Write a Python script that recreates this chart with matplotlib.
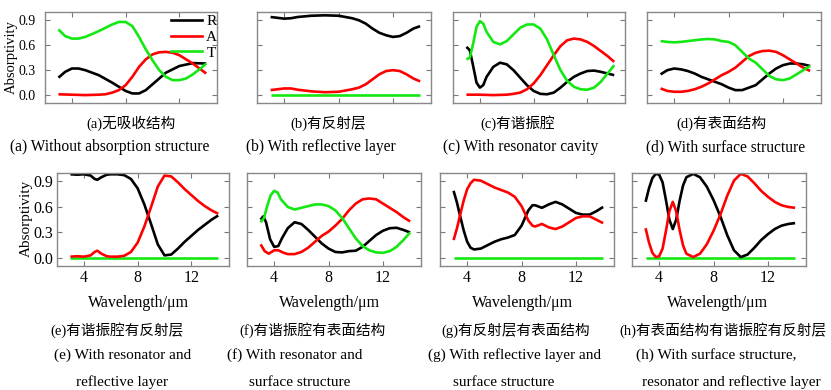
import matplotlib
matplotlib.use("Agg")
import matplotlib.pyplot as plt

# ---- data (x = wavelength in um) ----
# (a) without absorption structure
a_x_R = [3, 3.5, 4, 4.5, 5, 6, 7, 7.5, 8, 8.5, 9, 9.5, 10, 10.5, 11, 12, 13, 14]
a_R = [0.21, 0.28, 0.32, 0.32, 0.30, 0.24, 0.15, 0.10, 0.05, 0.02, 0.02, 0.06, 0.13, 0.20, 0.27, 0.35, 0.385, 0.38]
a_x_A = [3, 4, 5, 6, 6.5, 7, 7.5, 8, 8.5, 9, 9.5, 10, 10.5, 11, 11.5, 12, 12.5, 13, 13.5, 14]
a_A = [0.01, 0.005, 0.0, 0.005, 0.01, 0.03, 0.06, 0.12, 0.22, 0.34, 0.43, 0.49, 0.515, 0.52, 0.51, 0.48, 0.43, 0.38, 0.32, 0.26]
a_x_T = [3, 3.5, 4, 4.5, 5, 6, 7, 7.5, 8, 8.5, 9, 9.5, 10, 10.5, 11, 11.5, 12, 12.5, 13, 13.5, 14]
a_T = [0.79, 0.71, 0.68, 0.68, 0.70, 0.77, 0.85, 0.88, 0.88, 0.83, 0.70, 0.55, 0.42, 0.30, 0.22, 0.18, 0.18, 0.20, 0.25, 0.31, 0.38]

# (b) with reflective layer
b_x = [3, 3.5, 4, 4.5, 5, 6, 7, 8, 8.5, 9, 9.5, 10, 10.5, 11, 11.5, 12, 12.5, 13, 13.5, 14]
b_R = [0.94, 0.93, 0.92, 0.925, 0.94, 0.955, 0.96, 0.955, 0.94, 0.925, 0.90, 0.86, 0.80, 0.75, 0.72, 0.70, 0.71, 0.75, 0.80, 0.83]
b_A = [0.06, 0.07, 0.08, 0.08, 0.065, 0.045, 0.035, 0.04, 0.055, 0.07, 0.09, 0.13, 0.19, 0.25, 0.29, 0.30, 0.29, 0.25, 0.20, 0.165]
b_T = [0.0] * len(b_x)

# (c) with resonator cavity
c_x_T = [3, 3.25, 3.5, 3.75, 4, 4.25, 4.5, 5, 5.5, 6, 6.5, 7, 7.5, 8, 8.5, 9, 9.5, 10, 10.5, 11, 11.5, 12, 12.5, 13, 13.5, 14]
c_T = [0.43, 0.45, 0.62, 0.82, 0.89, 0.86, 0.76, 0.64, 0.61, 0.65, 0.73, 0.81, 0.85, 0.85, 0.80, 0.67, 0.48, 0.30, 0.17, 0.10, 0.07, 0.065, 0.09, 0.16, 0.26, 0.36]
c_R = [0.58, 0.54, 0.35, 0.15, 0.09, 0.12, 0.22, 0.34, 0.39, 0.37, 0.30, 0.21, 0.12, 0.05, 0.015, 0.01, 0.03, 0.09, 0.16, 0.22, 0.26, 0.29, 0.295, 0.28, 0.26, 0.24]
c_x_A = [3, 4, 5, 6, 6.5, 7, 7.5, 8, 8.5, 9, 9.5, 10, 10.5, 11, 11.5, 12, 12.5, 13, 13.5, 14]
c_A = [0.005, 0.005, 0.0, 0.005, 0.015, 0.03, 0.07, 0.14, 0.24, 0.36, 0.48, 0.59, 0.66, 0.68, 0.67, 0.64, 0.59, 0.53, 0.47, 0.40]

# (d) with surface structure
d_x = [3, 3.5, 4, 4.5, 5, 5.5, 6, 6.5, 7, 7.5, 8, 8.5, 9, 9.5, 10, 10.5, 11, 11.5, 12, 12.5, 13, 13.5, 14]
d_T = [0.65, 0.64, 0.635, 0.64, 0.65, 0.66, 0.67, 0.675, 0.67, 0.65, 0.64, 0.60, 0.52, 0.44, 0.39, 0.31, 0.23, 0.19, 0.18, 0.20, 0.25, 0.30, 0.35]
d_R = [0.25, 0.30, 0.32, 0.31, 0.29, 0.26, 0.22, 0.19, 0.16, 0.13, 0.09, 0.06, 0.06, 0.09, 0.12, 0.19, 0.26, 0.32, 0.36, 0.38, 0.38, 0.37, 0.35]
d_A = [0.08, 0.05, 0.04, 0.04, 0.05, 0.07, 0.10, 0.14, 0.19, 0.24, 0.28, 0.33, 0.40, 0.47, 0.51, 0.53, 0.535, 0.52, 0.48, 0.43, 0.38, 0.33, 0.29]

# (e) with resonator and reflective layer
e_x = [3, 3.5, 4, 4.5, 4.8, 5, 5.3, 5.7, 6, 6.5, 7, 7.5, 8, 8.5, 9, 9.5, 10, 10.5, 11, 11.5, 12, 12.5, 13, 13.5, 14]
e_R = [0.985, 0.98, 0.985, 0.97, 0.93, 0.92, 0.95, 0.98, 0.985, 0.985, 0.975, 0.93, 0.82, 0.63, 0.40, 0.16, 0.03, 0.04, 0.11, 0.19, 0.26, 0.33, 0.39, 0.45, 0.50]
e_A = [0.015, 0.02, 0.015, 0.03, 0.07, 0.085, 0.05, 0.02, 0.015, 0.015, 0.025, 0.07, 0.18, 0.37, 0.60, 0.84, 0.97, 0.96, 0.89, 0.81, 0.74, 0.67, 0.61, 0.56, 0.52]
e_T = [0.0] * len(e_x)

# (f) with resonator and surface structure
f_x_T = [3, 3.25, 3.5, 3.75, 4, 4.25, 4.5, 5, 5.5, 6, 6.5, 7, 7.5, 8, 8.5, 9, 9.5, 10, 10.5, 11, 11.5, 12, 12.5, 13, 13.5, 14]
f_T = [0.42, 0.47, 0.62, 0.74, 0.79, 0.77, 0.69, 0.60, 0.57, 0.59, 0.61, 0.63, 0.63, 0.61, 0.56, 0.47, 0.35, 0.23, 0.14, 0.09, 0.065, 0.06, 0.08, 0.13, 0.21, 0.30]
f_x_R = [3, 3.2, 3.4, 3.7, 4, 4.3, 4.6, 5, 5.5, 6, 6.5, 7, 7.5, 8, 8.5, 9, 9.5, 10, 10.5, 11, 11.5, 12, 12.5, 13, 13.5, 14]
f_R = [0.45, 0.49, 0.42, 0.22, 0.13, 0.14, 0.24, 0.35, 0.42, 0.40, 0.33, 0.25, 0.17, 0.11, 0.07, 0.065, 0.08, 0.085, 0.13, 0.20, 0.27, 0.32, 0.35, 0.355, 0.33, 0.30]
f_x_A = [3, 3.3, 3.6, 4, 4.3, 4.7, 5, 5.5, 6, 6.5, 7, 7.5, 8, 8.5, 9, 9.5, 10, 10.5, 11, 11.5, 12, 12.5, 13, 13.5, 14]
f_A = [0.16, 0.08, 0.05, 0.09, 0.09, 0.06, 0.045, 0.045, 0.07, 0.12, 0.19, 0.26, 0.31, 0.38, 0.46, 0.56, 0.64, 0.69, 0.70, 0.69, 0.64, 0.59, 0.54, 0.48, 0.43]

# (g) with reflective layer and surface structure
g_x = [3, 3.25, 3.5, 3.75, 4, 4.25, 4.5, 5, 5.5, 6, 6.5, 7, 7.5, 8, 8.5, 8.8, 9, 9.5, 10, 10.5, 11, 11.5, 12, 12.5, 13, 13.5, 14]
g_R = [0.79, 0.65, 0.48, 0.32, 0.19, 0.12, 0.10, 0.11, 0.15, 0.19, 0.22, 0.24, 0.27, 0.38, 0.56, 0.62, 0.62, 0.59, 0.63, 0.66, 0.63, 0.58, 0.53, 0.51, 0.51, 0.55, 0.60]
g_A = [0.21, 0.35, 0.52, 0.68, 0.81, 0.88, 0.92, 0.91, 0.87, 0.83, 0.80, 0.77, 0.72, 0.61, 0.44, 0.38, 0.37, 0.40, 0.36, 0.34, 0.37, 0.42, 0.47, 0.49, 0.49, 0.45, 0.41]
g_T = [0.0] * len(g_x)

# (h) with surface structure, resonator and reflective layer
h_x = [3, 3.25, 3.5, 3.75, 4, 4.25, 4.5, 4.75, 5, 5.25, 5.5, 5.75, 6, 6.5, 7, 7.5, 8, 8.5, 9, 9.5, 10, 10.5, 11, 11.5, 12, 12.5, 13, 13.5, 14]
h_R = [0.66, 0.82, 0.94, 0.99, 0.98, 0.89, 0.68, 0.45, 0.34, 0.45, 0.67, 0.85, 0.95, 0.99, 0.95, 0.84, 0.68, 0.49, 0.27, 0.09, 0.01, 0.04, 0.12, 0.21, 0.28, 0.34, 0.38, 0.40, 0.41]
h_A = [0.35, 0.18, 0.06, 0.01, 0.02, 0.11, 0.32, 0.55, 0.66, 0.55, 0.33, 0.15, 0.05, 0.01, 0.05, 0.16, 0.32, 0.51, 0.73, 0.91, 0.99, 0.96, 0.88, 0.79, 0.72, 0.66, 0.62, 0.60, 0.59]
h_T = [0.0] * len(h_x)

x_ticks = [4, 8, 12]
y_ticks = [0.0, 0.3, 0.6, 0.9]
y_tick_labels = ["0.0", "0.3", "0.6", "0.9"]
legend_labels = ["R", "A", "T"]

cn_titles = ["(a)无吸收结构", "(b)有反射层", "(c)有谐振腔", "(d)有表面结构",
             "(e)有谐振腔有反射层", "(f)有谐振腔有表面结构",
             "(g)有反射层有表面结构", "(h)有表面结构有谐振腔有反射层"]
en_titles = [["(a) Without absorption structure"], ["(b) With reflective layer"],
             ["(c) With resonator cavity"], ["(d) With surface structure"],
             ["(e) With resonator and", "reflective layer"],
             ["(f) With resonator and", "surface structure"],
             ["(g) With reflective layer and", "surface structure"],
             ["(h) With surface structure,", "resonator and reflective layer"]]

BLACK, RED, GREEN = "#000000", "#ff0000", "#13e813"
FONT = ["Liberation Serif", "Noto Sans CJK SC"]
plt.rcParams["font.family"] = FONT

W, H = 831, 390
fig = plt.figure(figsize=(W / 100, H / 100), dpi=100)


def px_axes(x0, y0, x1, y1):
    return fig.add_axes([x0 / W, 1 - y1 / H, (x1 - x0) / W, (y1 - y0) / H])


def style(ax, bottom_row, left_labels, ypad, ysize):
    ax.set_xlim(2.0, 14.8)
    ax.set_ylim(-0.095, 1.0)
    ax.set_xticks(x_ticks)
    ax.set_yticks(y_ticks)
    ax.tick_params(direction="in", length=3.5, width=0.8, color="#777777",
                   top=True, right=True, labelsize=11.5)
    ax.tick_params(axis="y", pad=ypad, labelsize=ysize)
    ax.tick_params(axis="x", pad=3)
    if bottom_row:
        ax.set_xticklabels([str(t) for t in x_ticks])
    else:
        ax.set_xticklabels([])
    if left_labels:
        ax.set_yticklabels(y_tick_labels)
    else:
        ax.set_yticklabels([])
    for s in ax.spines.values():
        s.set_color("#888888")
        s.set_linewidth(1.0)


panels = [
    ((45, 12, 217, 103), [(a_x_R, a_R, BLACK), (a_x_A, a_A, RED), (a_x_T, a_T, GREEN)]),
    ((257, 12, 431, 103), [(b_x, b_R, BLACK), (b_x, b_A, RED), (b_x, b_T, GREEN)]),
    ((453, 12, 625, 103), [(c_x_T, c_R, BLACK), (c_x_A, c_A, RED), (c_x_T, c_T, GREEN)]),
    ((647, 12, 821, 103), [(d_x, d_R, BLACK), (d_x, d_A, RED), (d_x, d_T, GREEN)]),
    ((57, 173, 229, 266), [(e_x, e_T, GREEN), (e_x, e_R, BLACK), (e_x, e_A, RED)]),
    ((247, 173, 421, 266), [(f_x_R, f_R, BLACK), (f_x_A, f_A, RED), (f_x_T, f_T, GREEN)]),
    ((440, 173, 614, 266), [(g_x, g_T, GREEN), (g_x, g_R, BLACK), (g_x, g_A, RED)]),
    ((632, 173, 806, 266), [(h_x, h_T, GREEN), (h_x, h_R, BLACK), (h_x, h_A, RED)]),
]

axes = []
for i, (box, series) in enumerate(panels):
    ax = px_axes(*box)
    for xs, ys, c in series:
        ax.plot(xs, ys, color=c, lw=1.9, solid_joinstyle="round", solid_capstyle="butt")
    style(ax, bottom_row=i >= 4, left_labels=i in (0, 4),
          ypad=7 if i == 0 else 3, ysize=10 if i == 0 else 11.5)
    axes.append(ax)


def ftext(x, y, s, size, rot=0):
    fig.text(x / W, 1 - y / H, s, ha="center", va="center", fontsize=size,
             family=FONT, rotation=rot)


# y labels placed at the reference positions
ftext(11, 57, "Absorptivity", 10.5, rot=90)
ftext(26, 218, "Absorptivity", 11, rot=90)

# legend in panel (a)
handles = [plt.Line2D([], [], color=c, lw=1.9) for c in (BLACK, RED, GREEN)]
axes[0].legend(handles, legend_labels, loc="upper right", frameon=False,
               bbox_to_anchor=(1.055, 1.07), fontsize=11, handlelength=2.0,
               handletextpad=0.3, labelspacing=0.12, borderaxespad=0.2)

# captions, top row
cn_top = [(131, 123), (328, 123), (518, 123), (721, 123)]
en_top = [(110, 147), (321, 147), (521, 147), (726, 147)]
for i in range(4):
    ftext(*cn_top[i], cn_titles[i], 10.5)
    ftext(*en_top[i], en_titles[i][0], 11.2)

# captions, bottom row
wl_x = [139, 330, 523, 718]
cn_bot = [117, 312, 516, 723]
en_bot1 = [123, 295, 515, 716]
en_bot2 = [122, 300, 504, 731]
for j in range(4):
    ftext(wl_x[j], 303, "Wavelength/μm", 11.5)
    ftext(cn_bot[j], 330, cn_titles[j + 4], 10.5)
    ftext(en_bot1[j], 355, en_titles[j + 4][0], 11)
    ftext(en_bot2[j], 382, en_titles[j + 4][1], 11)

fig.savefig("out.png", dpi=100)
